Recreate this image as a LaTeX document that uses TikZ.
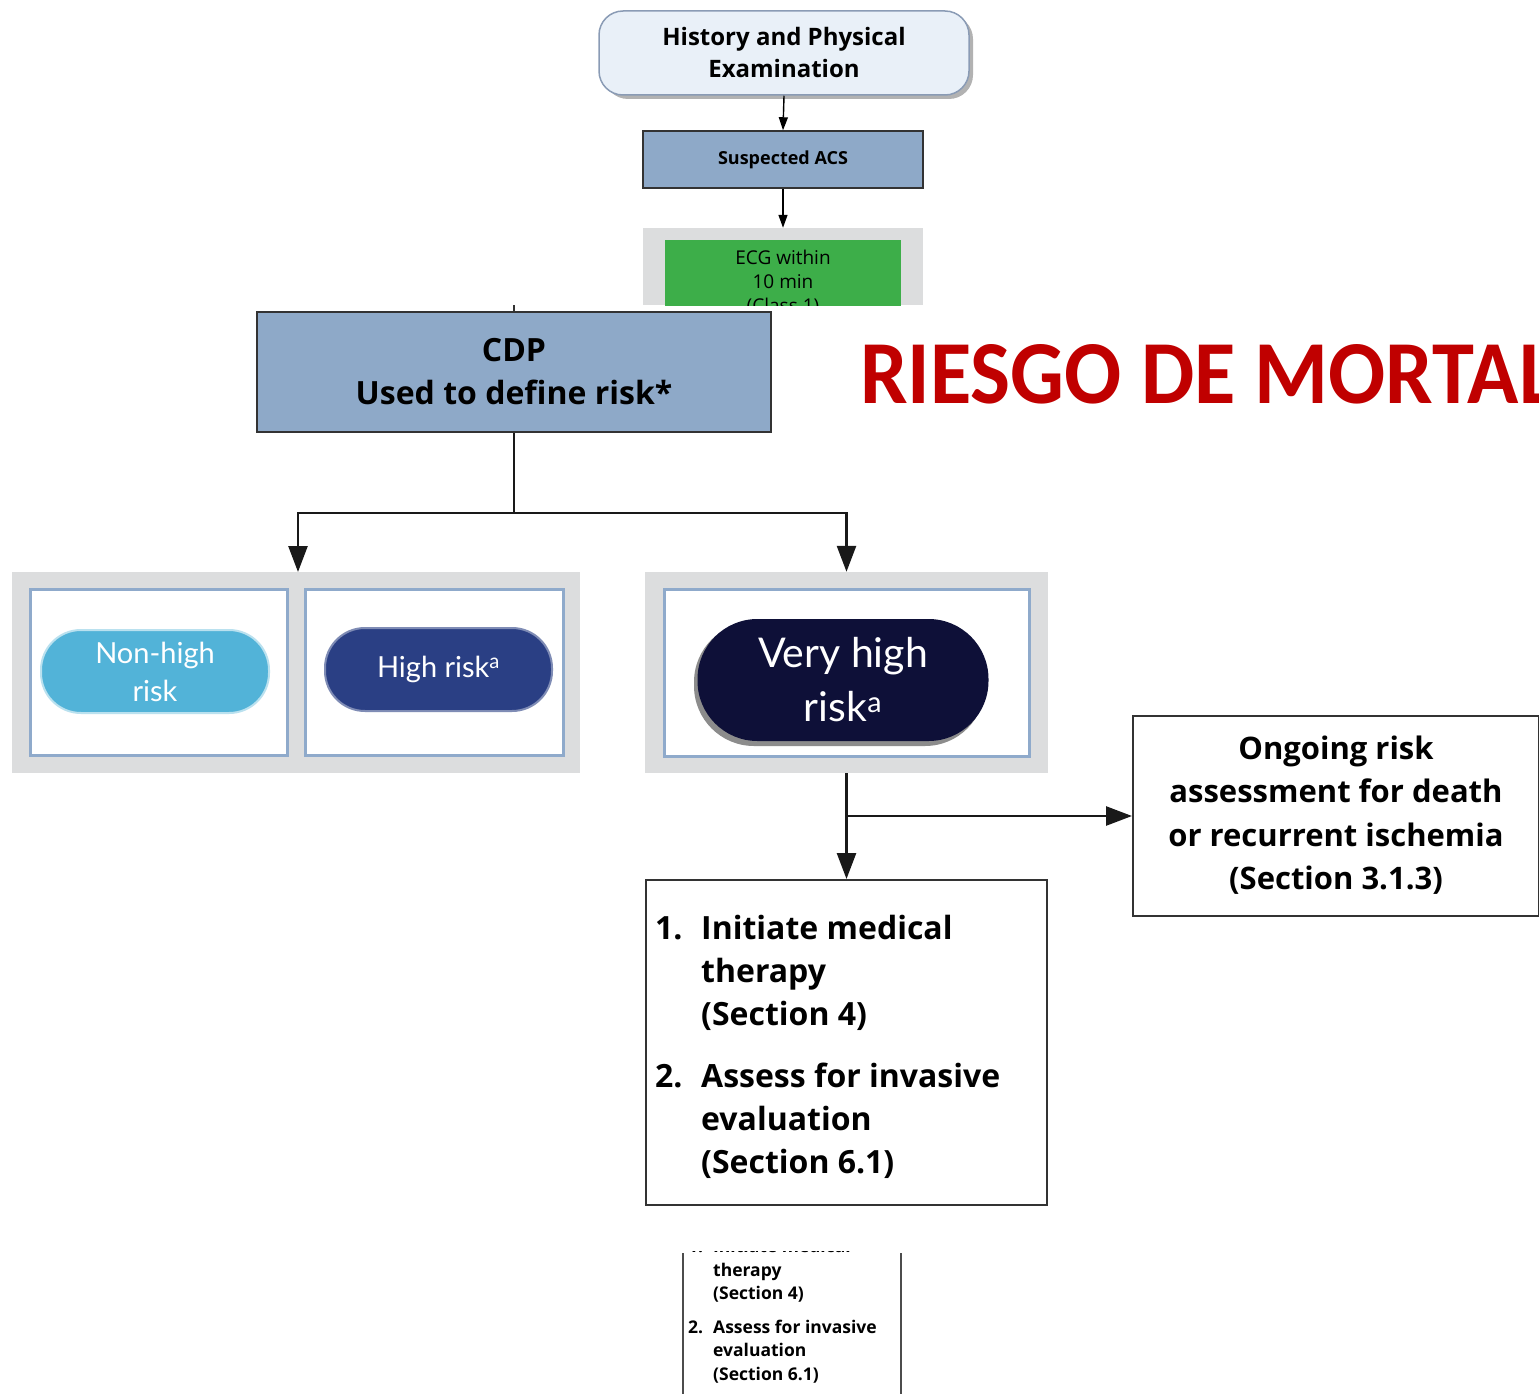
\documentclass[tikz,border=0pt]{standalone}
\usepackage{fontspec}
\setmainfont{Open Sans}
\newfontfamily\pillfont{Lato}
\newfontfamily\redfont[FakeStretch=0.94]{Carlito}
\usetikzlibrary{arrows.meta}
\definecolor{histfill}{HTML}{E9F0F8}
\definecolor{histdraw}{HTML}{8A9BB5}
\definecolor{acsfill}{HTML}{8EA9C8}
\definecolor{panelgray}{HTML}{DCDDDE}
\definecolor{ecggreen}{HTML}{3DAE49}
\definecolor{innerblue}{HTML}{8FAACB}
\definecolor{nonhigh}{HTML}{52B3D8}
\definecolor{highc}{HTML}{2A3F84}
\definecolor{veryhigh}{HTML}{0E1038}
\definecolor{riesgo}{HTML}{C00000}
\definecolor{linec}{HTML}{333333}
\tikzset{
  box/.style={rectangle, inner sep=0pt, align=center},
  panel/.style={box, fill=panelgray},
  inner/.style={box, fill=white, draw=innerblue, line width=3pt},
  pill/.style={box, text=white, font=\pillfont\fontsize{29}{38}\selectfont},
  smallarr/.style={draw=black, line width=1.4pt, -{Triangle[length=13pt,width=9pt]}},
  bigarr/.style={draw=black!90, line width=2.6pt, -{Triangle[length=26pt,width=19pt]}},
  bigline/.style={draw=black!90, line width=2.6pt},
}
\begin{document}
\begin{tikzpicture}[x=1pt,y=-1pt]
\useasboundingbox (0,0) rectangle (1539,1394);

% History
\fill[black!30, rounded corners=24pt] (604,15) rectangle (973,99);
\node[box, fill=histfill, draw=histdraw, line width=1.5pt, rounded corners=24pt,
  minimum width=370pt, minimum height=84pt,
  font=\bfseries\fontsize{24}{32}\selectfont] (hist) at (784,53)
  {History and Physical\\Examination};

% Suspected ACS
\node[box, fill=acsfill, draw=linec, line width=1.5pt, minimum width=280pt, minimum height=57pt,
  font=\bfseries\fontsize{18}{22}\selectfont] (acs) at (783,159.5) {\raisebox{-2pt}{Suspected ACS}};
\draw[smallarr] (hist.south) -- (acs.north);

% ECG (cut)
\node[panel, minimum width=280pt, minimum height=77pt] (ecgpanel) at (783,266.5) {};
\begin{scope}
\clip (600,220) rectangle (950,305);
\fill[ecggreen] (665,240) rectangle (901,330);
\node[box, font=\fontsize{19}{24}\selectfont, anchor=north] (ecg) at (783,250) {ECG within\\10 min\\(Class 1)};
\end{scope}
\draw[smallarr] (acs.south) -- (ecgpanel.north);

% CDP
\node[box, fill=acsfill, draw=linec, line width=2pt, minimum width=514pt, minimum height=120pt,
  font=\bfseries\fontsize{32}{43}\selectfont] (cdp) at (514,372) {CDP\\Used to define risk*};
\coordinate (cdptop) at (514,305);
\draw[linec, line width=1.5pt] (cdptop) -- (cdp.north);

% panels
\node[panel, minimum width=568pt, minimum height=201pt] (lpanel) at (296,672.5) {};
\node[inner, minimum width=257pt, minimum height=166pt] (box1) at (158.5,672) {};
\node[inner, minimum width=258pt, minimum height=166pt] (box2) at (434,672) {};
\node[pill, fill=nonhigh, draw=nonhigh!40, line width=2pt, rounded corners=40pt, minimum width=228pt, minimum height=83pt] (nonhighp) at (155,671.5) {Non-high\\risk};
\node[pill, fill=highc, draw=highc!60, line width=2pt, rounded corners=40pt, minimum width=227pt, minimum height=83pt] (highp) at (438.5,669.5) {High risk\textsuperscript{a}};

\node[panel, minimum width=403pt, minimum height=201pt] (rpanel) at (846.5,672.5) {};
\node[inner, minimum width=365pt, minimum height=167pt] (box3) at (846.5,672.5) {};
\fill[black!45, rounded corners=60pt] (694,622) rectangle (985,746);
\node[pill, fill=veryhigh, rounded corners=60pt, minimum width=291pt, minimum height=122pt,
  font=\pillfont\fontsize{41}{54}\selectfont] (veryhighp) at (843,680) {Very high\\risk\textsuperscript{a}};

% split arrows
\coordinate (split) at (514,513);
\coordinate (lt) at (298,572);
\draw[bigline] (cdp.south) -- (split);
\draw[bigarr] (split) -| (lt);
\draw[bigarr] (split) -| (rpanel.north);

% Ongoing
\node[box, draw=linec, line width=2pt, fill=white, minimum width=406pt, minimum height=200pt,
  font=\bfseries\fontsize{31}{43.5}\selectfont] (ongoing) at (1336,816)
  {\raisebox{-3pt}{\begin{tabular}{@{}c@{}}Ongoing risk\\assessment for death\\or recurrent ischemia\\(Section 3.1.3)\end{tabular}}};

% Medical therapy
\node[box, draw=linec, line width=2pt, fill=white, minimum width=401pt, minimum height=325pt] (med) at (846.5,1042.5) {};
\node[inner sep=0pt, anchor=north west, font=\bfseries\fontsize{32}{43}\selectfont] (medtext) at (655,909)
  {\begin{tabular}{@{}p{46pt}@{}l@{}}1.&Initiate medical\\&therapy\\&(Section 4)\\[19pt]2.&Assess for invasive\\&evaluation\\&(Section 6.1)\end{tabular}};

\coordinate (branch) at (846,816);
\draw[bigarr] (rpanel.south) -- (med.north);
\draw[bigarr] (branch) -- (ongoing.west);

% bottom fragment
\coordinate (fl1) at (683,1253);
\coordinate (fl2) at (683,1394);
\coordinate (fr1) at (901,1253);
\coordinate (fr2) at (901,1394);
\draw[black!70, line width=2pt] (fl1) -- (fl2);
\draw[black!70, line width=2pt] (fr1) -- (fr2);
\begin{scope}
\clip (684,1251) rectangle (900,1394);
\node[inner sep=0pt, anchor=north west, font=\bfseries\fontsize{17.5}{23.5}\selectfont] (fragtext) at (688,1236)
  {\begin{tabular}{@{}p{25pt}@{}l@{}}1.&Initiate medical\\&therapy\\&(Section 4)\\[10pt]2.&Assess for invasive\\&evaluation\\&(Section 6.1)\end{tabular}};
\end{scope}

% red title
\begin{scope}
\clip (0,0) rectangle (1539,1394);
\node[inner sep=0pt, anchor=base west, text=riesgo, font=\redfont\bfseries\fontsize{90}{90}\selectfont] (riesgo) at (860,403) {RIESGO DE MORTAL};
\end{scope}
\end{tikzpicture}
\end{document}
